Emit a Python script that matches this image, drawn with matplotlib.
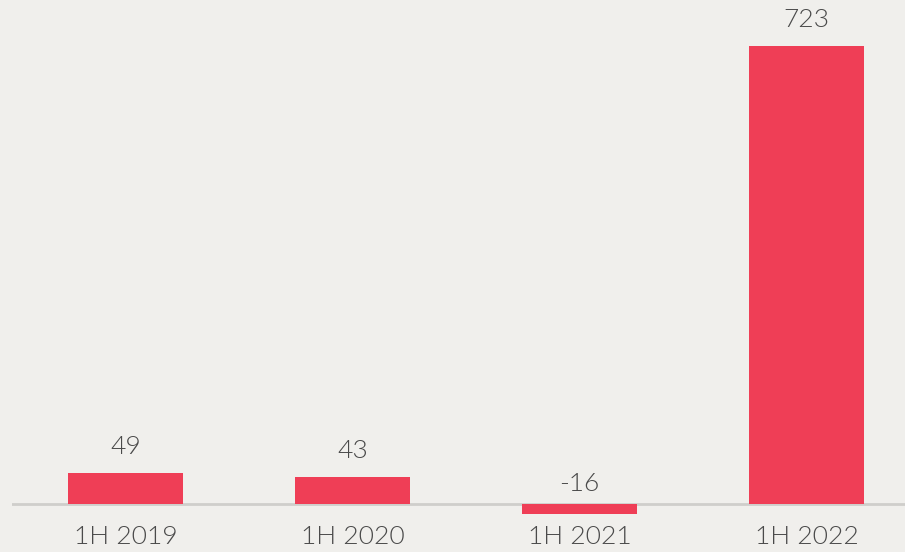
import matplotlib
matplotlib.use("Agg")
import matplotlib.pyplot as plt

categories = ["1H 2019", "1H 2020", "1H 2021", "1H 2022"]
values = [49, 43, -16, 723]

BG = "#F0EFEC"
BAR = "#EF3E56"
TXT = "#4A4A4A"

fig = plt.figure(figsize=(9.05, 5.52), dpi=100, facecolor=BG)
ax = fig.add_axes([12/905, 0, 1 - 12/905, 1])
ax.set_facecolor(BG)

x = list(range(len(categories)))
ax.bar(x, values, width=0.505, color=BAR, zorder=2)
ax.axhline(0, color="#CFCECB", lw=2, zorder=1)

ax.set_xlim(-0.5, 3.434)
ax.set_ylim(-75.8, 795.6)

font = dict(family=["Lato", "DejaVu Sans"], fontweight=300, color=TXT)
for xi, v in zip(x, values):
    off = 10 if v >= 0 else 6
    ax.annotate(str(v), (xi, max(v, 0)), xytext=(0, off), textcoords="offset points",
                ha="center", va="bottom", fontsize=19, **font)
    ax.annotate(categories[xi], (xi, 0), xytext=(0, -15), textcoords="offset points",
                ha="center", va="top", fontsize=19, **font)

for s in ax.spines.values():
    s.set_visible(False)
ax.set_xticks([])
ax.set_yticks([])

fig.savefig("out.png", dpi=100, facecolor=BG)
